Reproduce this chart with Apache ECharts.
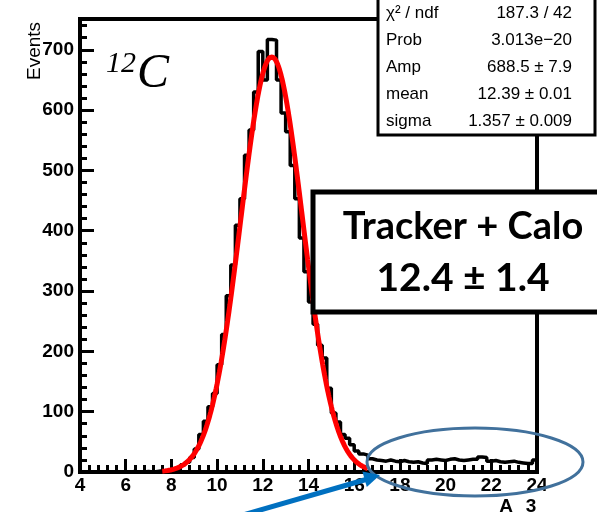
<!DOCTYPE html>
<html>
<head>
<meta charset="utf-8">
<script src="https://cdn.jsdelivr.net/npm/echarts@6/dist/echarts.min.js"></script>
<style>
  html, body { margin: 0; padding: 0; background: #fff; }
  #chart { width: 597px; height: 512px; }
</style>
</head>
<body>
<div id="chart"></div>
<script>
// Reconstructed mass number A for 12C, 0.2-wide bins from A = 4 to A = 24
const binStart = 4;
const binWidth = 0.2;
const counts = [
  0, 0, 0, 0, 0, 0, 0, 0, 0, 0, 0, 1, 0, 0, 1, 0, 1, 2,
  2, 3, 5, 7, 12, 16, 24, 38, 62, 84, 108, 130, 178, 228, 292, 343, 409, 453,
  525, 567, 630, 697, 650, 717, 716, 650, 595, 564, 508, 453, 388, 332, 282, 245,
  210, 189, 139, 98, 83, 62, 56, 45, 35, 30, 28, 22,
  20, 19, 18, 20, 18, 17, 19, 17, 16, 17,
  15, 14, 20, 21, 20, 19, 21, 22, 20, 19,
  20, 21, 21, 25, 24, 18, 19, 17, 16, 17,
  18, 16, 15, 14, 14, 20
];

// Gaussian fit result and the window it was fitted over
const fitAmp = 688.5;
const fitMean = 12.39;
const fitSigma = 1.357;
const fitRange = [7.6, 16.6];

// Fit statistics box
const statNames = ['\u03c7\u00b2 / ndf', 'Prob', 'Amp', 'mean', 'sigma'];
const statValues = ['187.3 / 42', '3.013e\u221220', '688.5 \u00b1 7.9', '12.39 \u00b1 0.01', '1.357 \u00b1 0.009'];

// Combined result
const resultTitle = 'Tracker + Calo';
const resultValue = '12.4 \u00b1 1.4';

// Histogram outline: one point per bin edge, drawn as steps
const histPoints = counts.map((c, i) => [binStart + i * binWidth, c]);
histPoints.push([binStart + counts.length * binWidth, counts[counts.length - 1]]);

// Fit curve sampled across the fit window
const fitPoints = [];
const nFit = 450;
for (let i = 0; i <= nFit; i++) {
  const a = fitRange[0] + (fitRange[1] - fitRange[0]) * i / nFit;
  const z = (a - fitMean) / fitSigma;
  fitPoints.push([a, fitAmp * Math.exp(-0.5 * z * z)]);
}

const chart = echarts.init(document.getElementById('chart'), null, { renderer: 'canvas' });

const labelFont = { color: '#000', fontSize: 19, fontWeight: 'bold', fontFamily: 'Liberation Sans, Arial, sans-serif' };
const tickStyle = { color: '#000', width: 3 };

const graphics = [
  // "Events" axis title
  { type: 'text', x: 35, y: 51, rotation: Math.PI / 2, z: 100,
    style: { text: 'Events', fill: '#000', font: '19px "Liberation Sans", Arial, sans-serif', align: 'center', verticalAlign: 'middle' } },
  // Nucleus label
  { type: 'text', x: 106, y: 49, z: 100,
    style: { text: '12', fill: '#000', font: 'italic 30px "Liberation Serif", "Times New Roman", serif', align: 'left', verticalAlign: 'top' } },
  { type: 'text', x: 137, y: 50, z: 100,
    style: { text: 'C', fill: '#000', font: 'italic 48px "Liberation Serif", "Times New Roman", serif', align: 'left', verticalAlign: 'top' } },
  // Statistics box
  { type: 'rect', z: 100, shape: { x: 378, y: -3, width: 217, height: 138 },
    style: { fill: '#fff', stroke: '#000', lineWidth: 3 } },
  // Combined-result box
  { type: 'rect', z: 100, shape: { x: 313, y: 192, width: 300, height: 120 },
    style: { fill: '#fff', stroke: '#000', lineWidth: 5 } },
  { type: 'text', x: 463, y: 227, z: 101,
    style: { text: resultTitle, fill: '#000', font: 'bold 38px Lato, "Open Sans", sans-serif', align: 'center', verticalAlign: 'middle' } },
  { type: 'text', x: 463, y: 278, z: 101,
    style: { text: resultValue, fill: '#000', font: 'bold 39px Lato, "Open Sans", sans-serif', align: 'center', verticalAlign: 'middle' } },
  // Tail region highlight
  { type: 'ellipse', z: 100, shape: { cx: 475, cy: 462, rx: 108, ry: 34 },
    style: { fill: 'none', stroke: '#41719C', lineWidth: 3 } },
  // Pointer to the tail
  { type: 'line', z: 100, shape: { x1: 236, y1: 517, x2: 366, y2: 479.5 },
    style: { stroke: '#0070C0', lineWidth: 5 } },
  { type: 'polygon', z: 100, shape: { points: [[380, 475], [366.8, 487], [362.4, 471.6]] },
    style: { fill: '#0070C0' } },
  // Axis title fragments at the lower right
  { type: 'text', x: 506, y: 497, z: 100,
    style: { text: 'A', fill: '#000', font: 'bold 19px "Liberation Sans", Arial, sans-serif', align: 'center', verticalAlign: 'top' } },
  { type: 'text', x: 531, y: 497, z: 100,
    style: { text: '3', fill: '#000', font: 'bold 19px "Liberation Sans", Arial, sans-serif', align: 'center', verticalAlign: 'top' } }
];

statNames.forEach((name, i) => {
  const y = 13 + i * 27;
  graphics.push({ type: 'text', x: 386, y: y, z: 101,
    style: { text: name, fill: '#000', font: '17px "Liberation Sans", Arial, sans-serif', align: 'left', verticalAlign: 'middle' } });
  graphics.push({ type: 'text', x: 572, y: y, z: 101,
    style: { text: statValues[i], fill: '#000', font: '17px "Liberation Sans", Arial, sans-serif', align: 'right', verticalAlign: 'middle' } });
});

chart.setOption({
  animation: false,
  backgroundColor: '#fff',
  grid: { left: 80, right: 60, top: 19, bottom: 40, show: true, borderColor: '#000', borderWidth: 4, backgroundColor: 'transparent' },
  xAxis: {
    type: 'value', min: 4, max: 24, interval: 2,
    axisLine: { show: true, onZero: false, lineStyle: { color: '#000', width: 4 } },
    axisTick: { show: true, inside: true, length: 13, lineStyle: tickStyle },
    minorTick: { show: true, splitNumber: 5, length: 7, lineStyle: tickStyle },
    splitLine: { show: false },
    minorSplitLine: { show: false },
    axisLabel: Object.assign({ margin: 4 }, labelFont)
  },
  yAxis: {
    type: 'value', min: 0, max: 751, interval: 100,
    axisLine: { show: true, onZero: false, lineStyle: { color: '#000', width: 4 } },
    axisTick: { show: true, inside: true, length: 14, lineStyle: tickStyle },
    minorTick: { show: true, splitNumber: 5, length: 7, lineStyle: tickStyle },
    splitLine: { show: false },
    minorSplitLine: { show: false },
    axisLabel: Object.assign({ margin: 6, showMaxLabel: false }, labelFont)
  },
  series: [
    {
      type: 'line', data: histPoints, step: 'end', showSymbol: false, symbol: 'none',
      lineStyle: { color: '#000', width: 3.5 }, z: 3, silent: true
    },
    {
      type: 'line', data: fitPoints, showSymbol: false, symbol: 'none',
      lineStyle: { color: '#ff0000', width: 5 }, z: 4, silent: true
    }
  ],
  graphic: graphics
});
</script>
</body>
</html>
